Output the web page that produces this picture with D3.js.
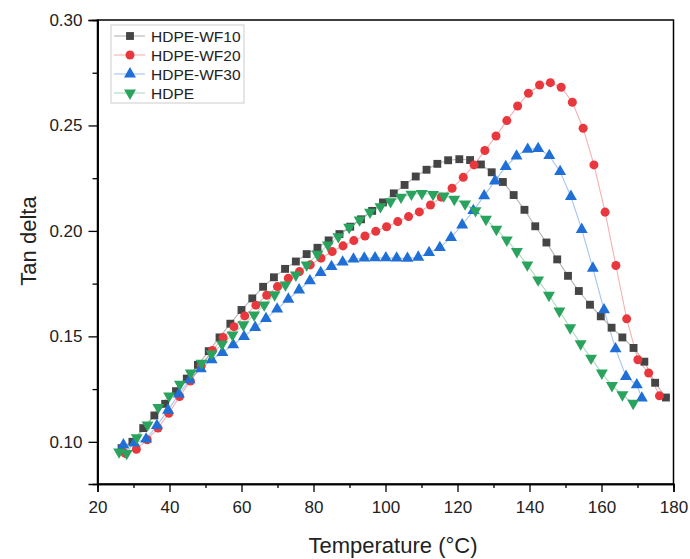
<!DOCTYPE html>
<html>
<head>
<meta charset="utf-8">
<script src="https://cdn.jsdelivr.net/npm/d3@7"></script>
<style>
  body { margin: 0; background: #fff; }
  text { font-family: "Liberation Sans", Arial, sans-serif; }
</style>
</head>
<body>
<div id="chart"></div>
<script>
// series names
const seriesNames = ['HDPE-WF10', 'HDPE-WF20', 'HDPE-WF30', 'HDPE'];

// HDPE-WF10 (squares)
const wf10T = [26.7, 29.7, 32.7, 35.8, 38.8, 41.8, 44.8, 47.9, 50.9, 53.9, 56.9, 60.0, 63.0, 66.0, 69.0, 72.1, 75.1, 78.1, 81.1, 84.2,
  87.2, 90.2, 93.2, 96.3, 99.3, 102.3, 105.3, 108.4, 111.4, 114.4, 117.4, 120.5, 123.5, 126.5, 129.5, 132.6, 135.6, 138.6, 141.6, 144.7,
  147.7, 150.7, 153.7, 156.8, 159.8, 162.8, 165.8, 168.9, 171.9, 174.9, 177.9];
const wf10Tan = [0.097, 0.100, 0.1065, 0.1125, 0.118, 0.124, 0.130, 0.1365, 0.143, 0.1495, 0.156, 0.1625, 0.168, 0.1735, 0.178, 0.182, 0.1855, 0.189, 0.192, 0.1955,
  0.1985, 0.202, 0.2055, 0.2095, 0.2135, 0.2178, 0.2218, 0.2258, 0.229, 0.2318, 0.2335, 0.234, 0.2336, 0.2315, 0.2278, 0.2232, 0.217, 0.210, 0.2022, 0.1945,
  0.1865, 0.1787, 0.1715, 0.165, 0.1595, 0.1541, 0.1495, 0.1445, 0.138, 0.128, 0.121];

// HDPE-WF20 (circles)
const wf20T = [27.7, 30.8, 33.8, 36.8, 39.8, 42.8, 45.8, 48.8, 51.9, 54.9, 57.9, 60.9, 64.0, 67.0, 70.0, 73.0, 76.1, 79.1, 82.1, 85.2,
  88.2, 91.2, 94.3, 97.3, 100.3, 103.4, 106.4, 109.4, 112.5, 115.5, 118.5, 121.6, 124.6, 127.6, 130.7, 133.7, 136.7, 139.7, 142.8, 145.8,
  148.8, 151.9, 154.9, 157.9, 161.0, 164.0, 167.0, 170.1, 173.1, 176.1];
const wf20Tan = [0.0945, 0.0965, 0.101, 0.1065, 0.1135, 0.1215, 0.1288, 0.136, 0.1433, 0.1494, 0.1546, 0.1597, 0.1648, 0.1695, 0.1736, 0.1776, 0.1807, 0.1839, 0.1871, 0.1902,
  0.1929, 0.1954, 0.1976, 0.1998, 0.202, 0.2044, 0.2068, 0.209, 0.2123, 0.216, 0.2202, 0.2254, 0.2313, 0.2381, 0.245, 0.2523, 0.2592, 0.2653, 0.2692, 0.2703,
  0.2681, 0.261, 0.2487, 0.2313, 0.2089, 0.1836, 0.1583, 0.1389, 0.1326, 0.1218];

// HDPE-WF30 (triangles up)
const wf30T = [27.2, 30.2, 33.5, 36.5, 39.6, 42.6, 45.6, 48.7, 51.7, 54.7, 57.7, 60.7, 63.8, 66.8, 69.9, 73.0, 76.0, 79.0, 82.0, 85.0,
  88.1, 91.1, 94.1, 97.1, 100.1, 103.1, 106.1, 109.1, 112.1, 115.1, 118.2, 121.3, 124.4, 127.4, 130.4, 133.4, 136.4, 139.5, 142.4, 145.5,
  148.5, 151.5, 154.5, 157.6, 160.7, 163.9, 166.8, 169.8, 171.2];
const wf30Tan = [0.0985, 0.0994, 0.1013, 0.1077, 0.115, 0.1226, 0.1294, 0.1346, 0.1389, 0.1423, 0.146, 0.1499, 0.1542, 0.1584, 0.1629, 0.1676, 0.172, 0.1763, 0.1802, 0.1831,
  0.1852, 0.1866, 0.1871, 0.1872, 0.1872, 0.1871, 0.187, 0.1875, 0.1897, 0.1921, 0.1968, 0.2028, 0.2096, 0.2166, 0.2237, 0.2305, 0.2355, 0.2387, 0.239, 0.2357,
  0.2281, 0.2163, 0.2007, 0.1823, 0.1626, 0.1441, 0.131, 0.127, 0.1207];

// HDPE (triangles down)
const hdpeT = [26.0, 28.1, 30.9, 33.9, 36.9, 39.9, 42.9, 45.9, 48.9, 51.7, 54.6, 57.5, 60.5, 63.5, 66.3, 69.2, 72.2, 75.1, 78.1, 81.1,
  84.0, 86.9, 89.9, 92.8, 95.7, 98.6, 101.4, 104.3, 107.2, 110.1, 113.2, 116.2, 119.1, 122.1, 125.0, 127.9, 130.8, 133.7, 136.5, 139.4,
  142.4, 145.4, 148.3, 151.3, 154.2, 157.1, 160.1, 162.9, 165.8, 168.8];
const hdpeTan = [0.0952, 0.0945, 0.102, 0.108, 0.1163, 0.1218, 0.1273, 0.1326, 0.1373, 0.1417, 0.1463, 0.1507, 0.1555, 0.1602, 0.1649, 0.1697, 0.1744, 0.1791, 0.1839, 0.1889,
  0.1934, 0.1973, 0.2017, 0.2052, 0.2089, 0.2115, 0.2139, 0.216, 0.2174, 0.2178, 0.2173, 0.2166, 0.215, 0.2128, 0.2096, 0.2055, 0.2008, 0.1957, 0.1902, 0.1839,
  0.1768, 0.1695, 0.162, 0.1541, 0.1465, 0.1397, 0.1326, 0.1267, 0.1223, 0.1183];

// axis ticks
const xMajor = [20, 40, 60, 80, 100, 120, 140, 160, 180];
const xMinor = [30, 50, 70, 90, 110, 130, 150, 170];
const yMajor = [0.10, 0.15, 0.20, 0.25, 0.30];
const yMinor = [0.125, 0.175, 0.225, 0.275];

const colors = ['#454545', '#e8383d', '#1f6fd6', '#2aa35e'];
const symbols = [d3.symbolSquare, d3.symbolCircle, d3.symbolTriangle, d3.symbolTriangle];
const symSize = [62, 64, 62, 62];

const series = [
  {name: seriesNames[0], t: wf10T, v: wf10Tan},
  {name: seriesNames[1], t: wf20T, v: wf20Tan},
  {name: seriesNames[2], t: wf30T, v: wf30Tan},
  {name: seriesNames[3], t: hdpeT, v: hdpeTan}
].map((s, i) => ({name: s.name, idx: i, values: s.t.map((t, j) => ({t: t, v: s.v[j]}))}));

const W = 690, H = 559;
const margin = {top: 20, right: 16.5, bottom: 75, left: 97.5};
const width = W - margin.left - margin.right;
const height = H - margin.top - margin.bottom;

const svg = d3.select('#chart').append('svg')
  .attr('width', W)
  .attr('height', H);

const x = d3.scaleLinear().domain([20, 180]).range([margin.left, margin.left + width]);
const y = d3.scaleLinear().domain([0.08, 0.30]).range([margin.top + height, margin.top]);

// frame
svg.append('rect')
  .attr('x', margin.left)
  .attr('y', margin.top)
  .attr('width', width)
  .attr('height', height)
  .attr('fill', 'none')
  .attr('stroke', '#000')
  .attr('stroke-width', 1.5);

// x axis, major + minor
svg.append('g')
  .attr('transform', `translate(0,${margin.top + height})`)
  .call(d3.axisBottom(x).tickValues(xMajor).tickSize(8).tickPadding(9).tickFormat(d3.format('d')));
svg.append('g')
  .attr('transform', `translate(0,${margin.top + height})`)
  .call(d3.axisBottom(x).tickValues(xMinor).tickSize(4).tickFormat(''));

// y axis, major + minor
svg.append('g')
  .attr('transform', `translate(${margin.left},0)`)
  .call(d3.axisLeft(y).tickValues(yMajor).tickSize(9).tickPadding(6).tickFormat(d3.format('.2f')));
svg.append('g')
  .attr('transform', `translate(${margin.left},0)`)
  .call(d3.axisLeft(y).tickValues(yMinor).tickSize(5).tickFormat(''));

svg.selectAll('.domain').attr('stroke', '#000').attr('stroke-width', 1.5);
svg.selectAll('.tick line').attr('stroke', '#000').attr('stroke-width', 1.3);
svg.selectAll('.tick text')
  .attr('fill', '#222')
  .style('font-size', '17px')
  .style('font-family', '"Liberation Sans", Arial, sans-serif');

// axis titles
svg.append('text')
  .attr('x', 393)
  .attr('y', 553)
  .attr('text-anchor', 'middle')
  .attr('fill', '#222')
  .style('font-size', '22px')
  .text('Temperature (°C)');

svg.append('text')
  .attr('transform', 'translate(36,241) rotate(-90)')
  .attr('text-anchor', 'middle')
  .attr('fill', '#222')
  .style('font-size', '22px')
  .text('Tan delta');

// lines + markers
const line = d3.line()
  .x(d => x(d.t))
  .y(d => y(d.v));

const plot = svg.append('g');

series.forEach(s => {
  plot.append('path')
    .datum(s.values)
    .attr('d', line)
    .attr('fill', 'none')
    .attr('stroke', colors[s.idx])
    .attr('stroke-opacity', 0.4)
    .attr('stroke-width', 1.1);
});

series.forEach(s => {
  const sym = d3.symbol().type(symbols[s.idx]).size(symSize[s.idx]);
  plot.append('g').selectAll('path')
    .data(s.values)
    .enter()
    .append('path')
    .attr('d', sym)
    .attr('transform', d => `translate(${x(d.t)},${y(d.v)})` + (s.idx === 3 ? ' rotate(180)' : ''))
    .attr('fill', colors[s.idx]);
});

// legend
const legend = svg.append('g').attr('transform', 'translate(111,25)');
legend.append('rect')
  .attr('width', 133)
  .attr('height', 78)
  .attr('fill', '#fff')
  .attr('stroke', '#ccc')
  .attr('stroke-width', 1);

const items = legend.selectAll('.legend')
  .data(series)
  .enter()
  .append('g')
  .attr('class', 'legend')
  .attr('transform', (d, i) => `translate(0,${11 + i * 19})`);

items.append('line')
  .attr('x1', 3)
  .attr('x2', 34)
  .attr('stroke', d => colors[d.idx])
  .attr('stroke-opacity', 0.4)
  .attr('stroke-width', 1.1);

items.append('path')
  .attr('d', d => d3.symbol().type(symbols[d.idx]).size(symSize[d.idx])())
  .attr('transform', d => 'translate(19,0)' + (d.idx === 3 ? ' rotate(180)' : ''))
  .attr('fill', d => colors[d.idx]);

items.append('text')
  .attr('x', 40)
  .attr('y', 5.5)
  .attr('fill', '#222')
  .style('font-size', '15.5px')
  .text(d => d.name);
</script>
</body>
</html>
